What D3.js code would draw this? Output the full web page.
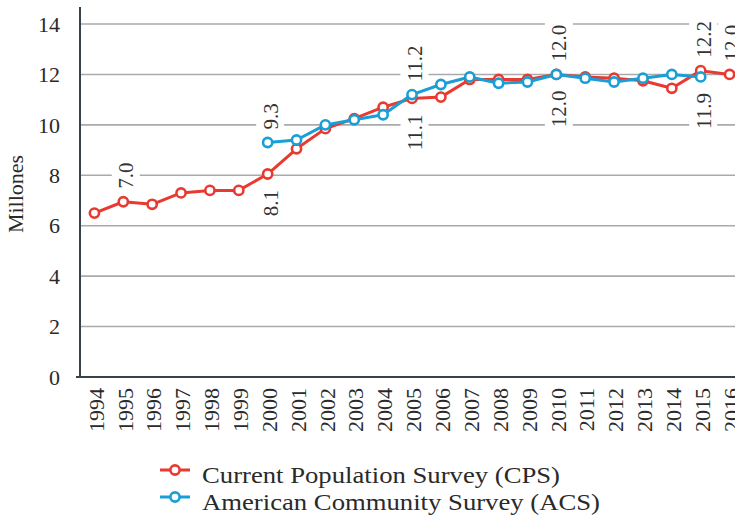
<!DOCTYPE html>
<html>
<head>
<meta charset="utf-8">
<script src="https://cdn.jsdelivr.net/npm/d3@7"></script>
<style>
  html, body { margin: 0; padding: 0; background: #fff; }
  svg { display: block; }
  text { font-family: "Liberation Serif", "DejaVu Serif", serif; fill: #2a2a2a; }
</style>
</head>
<body>
<svg id="chart" width="735" height="518"></svg>
<script>
const years = [1994,1995,1996,1997,1998,1999,2000,2001,2002,2003,2004,2005,2006,2007,2008,2009,2010,2011,2012,2013,2014,2015,2016];
const cpsValues = [6.5,6.95,6.85,7.3,7.4,7.4,8.05,9.05,9.85,10.25,10.7,11.05,11.1,11.8,11.8,11.8,12.0,11.9,11.85,11.75,11.45,12.15,12.0];
const acsYears = [2000,2001,2002,2003,2004,2005,2006,2007,2008,2009,2010,2011,2012,2013,2014,2015];
const acsValues = [9.3,9.4,10.0,10.2,10.4,11.2,11.6,11.9,11.65,11.7,12.0,11.85,11.7,11.85,12.0,11.9];
const yTicks = [0,2,4,6,8,10,12,14];
const seriesNames = ["Current Population Survey (CPS)", "American Community Survey (ACS)"];
// data labels: year, series, text, side
const labelYears = [1995,2000,2000,2005,2005,2010,2010,2015,2015,2016];
const labelSeries = ["cps","cps","acs","cps","acs","acs","cps","cps","acs","cps"];
const labelTexts = ["7.0","8.1","9.3","11.1","11.2","12.0","12.0","12.2","11.9","12.0"];
const labelSides = ["above","below","above","below","above","above","below","above","below","above"];

const colors = { cps: "#e83a30", acs: "#199fd5" };

const svg = d3.select("#chart");
const plotLeft = 80, plotRight = 744, plotTop = 24, plotBottom = 377;

const x = d3.scaleBand().domain(years).range([plotLeft, plotRight]).padding(0);
const xc = d => x(d) + x.bandwidth() / 2;
const y = d3.scaleLinear().domain([0, 14]).range([plotBottom, plotTop]);

// gridlines
svg.append("g").selectAll("line").data(yTicks.filter(t => t > 0)).join("line")
  .attr("x1", plotLeft).attr("x2", 735)
  .attr("y1", d => y(d)).attr("y2", d => y(d))
  .attr("stroke", "#a8aaab").attr("stroke-width", 1.6);

// y tick labels
svg.append("g").selectAll("text").data(yTicks).join("text")
  .attr("x", 60).attr("y", d => y(d)).attr("dy", "0.35em")
  .attr("text-anchor", "end").style("font-size", "22px")
  .text(d => d);

// axis lines
svg.append("line").attr("x1", plotLeft).attr("x2", plotLeft).attr("y1", 7).attr("y2", plotBottom + 1)
  .attr("stroke", "#36434a").attr("stroke-width", 2);
svg.append("line").attr("x1", 76).attr("x2", 735).attr("y1", plotBottom).attr("y2", plotBottom)
  .attr("stroke", "#36434a").attr("stroke-width", 2);

// x labels
svg.append("g").selectAll("text").data(years).join("text")
  .attr("transform", d => `translate(${xc(d) + 1.5},388) rotate(-90)`)
  .attr("dy", "0.35em").attr("text-anchor", "end").style("font-size", "22px")
  .text(d => d);

// y title
svg.append("text").attr("transform", "translate(15,194) rotate(-90)")
  .attr("dy", "0.35em").attr("text-anchor", "middle").style("font-size", "22px")
  .text("Millones");

// data labels (with white background breaking the gridlines)
const cpsMap = new Map(years.map((yr, i) => [yr, cpsValues[i]]));
const acsMap = new Map(acsYears.map((yr, i) => [yr, acsValues[i]]));
const labels = labelYears.map((yr, i) => ({
  year: yr, series: labelSeries[i], text: labelTexts[i], side: labelSides[i],
  value: (labelSeries[i] === "cps" ? cpsMap : acsMap).get(yr)
}));
const lg = svg.append("g");
labels.forEach(l => {
  const px = xc(l.year) + 2.5;
  const py = y(l.value);
  const rect = lg.append("rect").attr("fill", "#fff");
  const t = lg.append("text").attr("dy", "0.35em").attr("text-anchor", "middle")
    .style("font-size", "21px").style("fill", "#333").text(l.text);
  const len = t.node().getComputedTextLength();
  const gap = l.side === "above" ? 13 : 16;
  const cy = l.side === "above" ? py - gap - len / 2 : py + gap + len / 2;
  t.attr("transform", `translate(${px},${cy}) rotate(-90)`);
  rect.attr("x", px - 14).attr("y", cy - len / 2 - 4)
    .attr("width", 28).attr("height", len + 8);
});

// lines
const line = d3.line().x(d => xc(d[0])).y(d => y(d[1]));
const cpsData = years.map((yr, i) => [yr, cpsValues[i]]);
const acsData = acsYears.map((yr, i) => [yr, acsValues[i]]);

function drawSeries(data, color) {
  const g = svg.append("g");
  g.append("path").datum(data).attr("d", line).attr("fill", "none")
    .attr("stroke", color).attr("stroke-width", 3).attr("stroke-linejoin", "round");
  g.selectAll("circle").data(data).join("circle")
    .attr("cx", d => xc(d[0])).attr("cy", d => y(d[1])).attr("r", 4.6)
    .attr("fill", "#fff").attr("stroke", color).attr("stroke-width", 2.6);
}
drawSeries(cpsData, colors.cps);
drawSeries(acsData, colors.acs);

// legend
const legY = [470, 497];
const legWidths = [358, 398];
const legColors = [colors.cps, colors.acs];
seriesNames.forEach((name, i) => {
  const g = svg.append("g").attr("transform", `translate(0,${legY[i]})`);
  g.append("line").attr("x1", 160).attr("x2", 190).attr("y1", 0).attr("y2", 0)
    .attr("stroke", legColors[i]).attr("stroke-width", 3);
  g.append("circle").attr("cx", 175).attr("cy", 0).attr("r", 4.6)
    .attr("fill", "#fff").attr("stroke", legColors[i]).attr("stroke-width", 2.6);
  g.append("text").attr("x", 202).attr("y", 13).style("font-size", "24px")
    .attr("textLength", legWidths[i]).attr("lengthAdjust", "spacingAndGlyphs")
    .text(name);
});
</script>
</body>
</html>
